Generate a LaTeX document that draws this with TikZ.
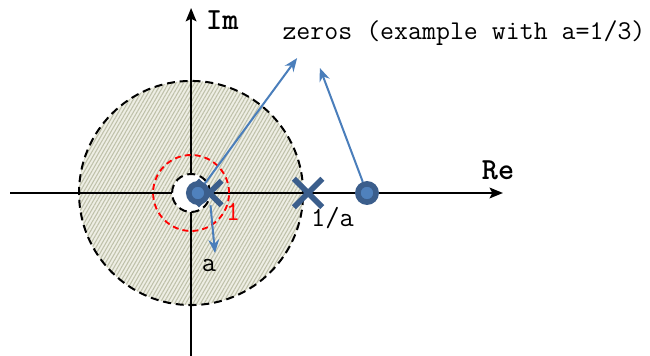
\documentclass[tikz,border=0pt]{standalone}
\usepackage{fontspec}
\usepackage{xcolor}
\usepackage{tikz}
\usetikzlibrary{arrows.meta, positioning, shapes.misc, patterns.meta}

\definecolor{zeroblue}{HTML}{3B5E8C}
\definecolor{zerolight}{HTML}{4F81BD}
\definecolor{arrowblue}{HTML}{4A7EBB}
\definecolor{hatchbg}{HTML}{EEEEE4}
\definecolor{hatchln}{HTML}{BFC1AA}

\tikzset{
  %% Axis with arrow
  axis/.style={-{Stealth[length=10pt,width=8pt,inset=2pt]},
               draw=black, line width=1.5pt},
  %% Axis label
  axlabel/.style={font=\ttfamily\bfseries\fontsize{23}{25}\selectfont},
  %% Dashed region border
  bound/.style={draw=black, line width=1.5pt, dash pattern=on 6pt off 3.6pt},
  %% Unit circle
  unitc/.style={draw=red, line width=1.4pt, dash pattern=on 4.5pt off 3pt},
  %% Pole marker
  pole/.style={cross out, draw=zeroblue, line width=4.2pt, inner sep=0pt},
  %% Zero marker
  zeromark/.style={circle, fill=zerolight, draw=zeroblue,
                   line width=4.2pt, minimum size=0.48cm, inner sep=0pt},
  %% Pointer arrow
  zarr/.style={-{Stealth[length=10pt,width=8pt]},
               draw=arrowblue, line width=1.5pt},
}

\begin{document}
\begin{tikzpicture}[every node/.style={font=\ttfamily\fontsize{20.7}{23}\selectfont,
                    inner sep=0pt}]
  \useasboundingbox (-5.03,-4.29) rectangle (12.08,5.08);

  %% Region |z| < 1/a
  \fill[hatchbg] (0,0) circle (2.95);
  \fill[pattern={Lines[angle=60,distance=2.4pt,line width=0.8pt]},
        pattern color=hatchln] (0,0) circle (2.95);
  \draw[bound] (0,0) circle (2.95);

  %% Axes
  \coordinate (west) at (-4.76,0);
  \coordinate (east) at (8.21,0);
  \coordinate (south) at (0,-4.29);
  \coordinate (north) at (0,4.87);
  \draw[axis] (west) -- (east);
  \draw[axis] (south) -- (north);
  \node[axlabel, anchor=west] (im) at (0.39,4.55) {Im};
  \node[axlabel] (re) at (8.08,0.61) {Re};

  %% Hole and unit circle
  \draw[bound, fill=white] (0,0) circle (0.5);
  \draw[unitc] (0,0) circle (1);
  \node[text=red] (one) at (1.1,-0.49) {1};

  %% Poles and zeros
  \node[pole, minimum size=0.5cm] (p1) at (0.48,0) {};
  \node[pole, minimum size=0.6cm] (p2) at (3.08,0) {};
  \node[zeromark] (z1) at (0.18,0) {};
  \node[zeromark] (z2) at (4.63,0) {};

  %% Labels
  \node (inva) at (3.72,-0.66) {1/a};
  \node (alab) at (0.47,-1.92) {a};
  \node[anchor=west, font=\ttfamily\fontsize{20.3}{23}\selectfont] (zlab)
       at (2.4,4.21) {zeros (example with a=1/3)};

  %% Arrows
  \coordinate (t1) at (2.79,3.55);
  \coordinate (t2) at (3.39,3.29);
  \coordinate (t3) at (0.63,-1.58);
  \draw[zarr] (z1) -- (t1);
  \draw[zarr] (z2) -- (t2);
  \draw[zarr] (p1) -- (t3);

\end{tikzpicture}
\end{document}
